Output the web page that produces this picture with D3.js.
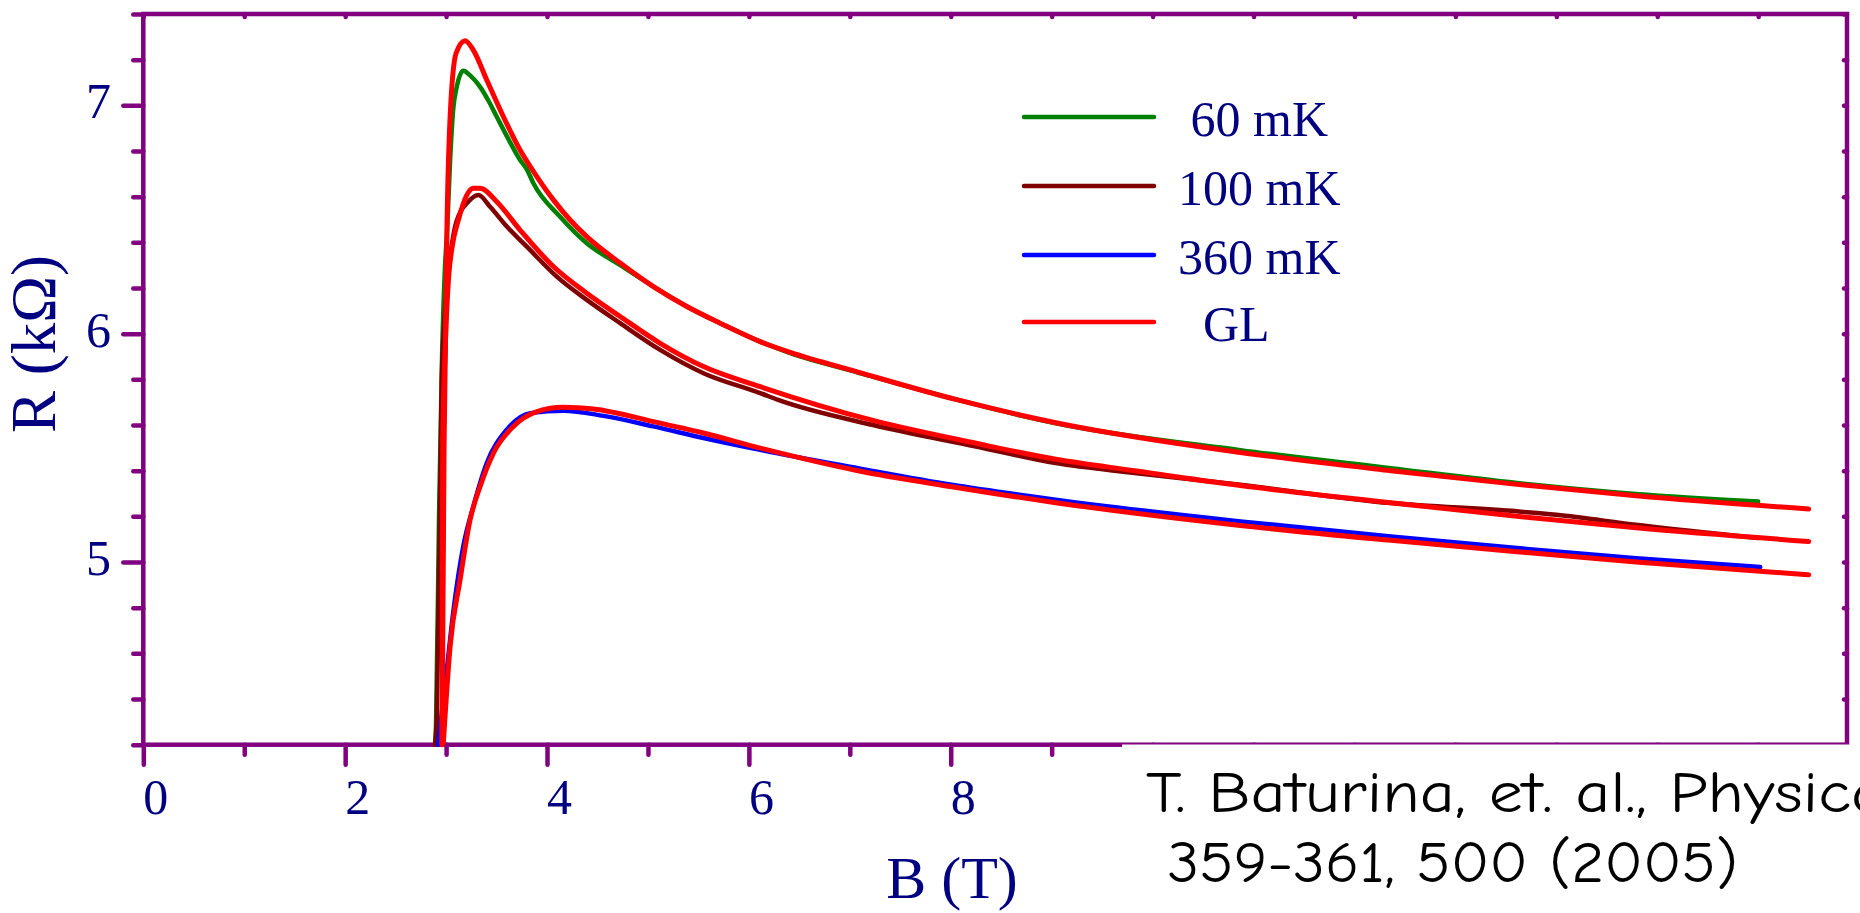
<!DOCTYPE html>
<html>
<head>
<meta charset="utf-8">
<script src="https://cdn.jsdelivr.net/npm/d3@7"></script>
<style>
  html, body { margin: 0; padding: 0; background: #fff; }
  svg { display: block; }
</style>
</head>
<body>
<svg id="chart" width="1860" height="913"></svg>
<script>
// Magnetoresistance R(B) of a TiN film at three temperatures, with GL fits.

// Measured curves: [B (T), R (kOhm)]
const data60mK = [
  [2.89, 4.20], [2.90, 4.28], [2.93, 5.20], [2.96, 5.90], [2.99, 6.30], [3.01, 6.45],
  [3.04, 6.76], [3.07, 6.98], [3.106, 7.081], [3.17, 7.151], [3.24, 7.13], [3.337, 7.081],
  [3.42, 7.02], [3.502, 6.95], [3.62, 6.85], [3.733, 6.761], [3.80, 6.72], [3.865, 6.659],
  [4.13, 6.512], [4.394, 6.396], [4.725, 6.30], [5.054, 6.206], [5.385, 6.119], [5.715, 6.046],
  [6.112, 5.965], [6.41, 5.915], [7.08, 5.83], [8.05, 5.712], [9.04, 5.608], [10.87, 5.49],
  [12.36, 5.411], [13.61, 5.346], [14.79, 5.298], [16.0, 5.265]
];
const data100mK = [
  [2.89, 4.20], [2.908, 4.32], [2.957, 5.80], [2.99, 6.10], [3.03, 6.30], [3.08, 6.45],
  [3.15, 6.54], [3.205, 6.571], [3.32, 6.607], [3.436, 6.556], [3.602, 6.469], [3.80, 6.381],
  [4.097, 6.25], [4.394, 6.148], [4.725, 6.046], [5.121, 5.929], [5.55, 5.827], [6.112, 5.74],
  [6.29, 5.71], [7.23, 5.60], [8.25, 5.506], [9.04, 5.433], [9.82, 5.39], [10.87, 5.338],
  [12.36, 5.258], [13.61, 5.222], [14.00, 5.207], [14.79, 5.163], [16.0, 5.105]
];
const data360mK = [
  [2.92, 4.20], [3.00, 4.50], [3.07, 4.777], [3.17, 5.068], [3.27, 5.243], [3.403, 5.433],
  [3.60, 5.579], [3.833, 5.652], [4.163, 5.663], [4.559, 5.640], [5.054, 5.594], [5.55, 5.543],
  [6.112, 5.491], [7.08, 5.411], [8.01, 5.338], [9.04, 5.273], [10.87, 5.178], [12.36, 5.112],
  [13.61, 5.061], [14.79, 5.017], [16.02, 4.978]
];

// Ginzburg-Landau fits
const fitGL60 = [
  [2.96, 4.20], [2.98, 5.50], [3.01, 6.50], [3.04, 6.95], [3.099, 7.228], [3.188, 7.283],
  [3.27, 7.242], [3.403, 7.111], [3.568, 6.95], [3.733, 6.804], [3.899, 6.688], [4.063, 6.586],
  [4.229, 6.498], [4.394, 6.425], [4.725, 6.309], [5.054, 6.206], [5.385, 6.119], [5.715, 6.046],
  [6.112, 5.965], [6.41, 5.918], [7.08, 5.832], [8.05, 5.712], [9.04, 5.61], [10.87, 5.48],
  [12.36, 5.40], [13.61, 5.34], [14.79, 5.29], [16.5, 5.232]
];
const fitGL100 = [
  [2.96, 4.20], [2.967, 5.535], [2.99, 5.915], [3.023, 6.235], [3.06, 6.38], [3.122, 6.498],
  [3.205, 6.607], [3.27, 6.637], [3.337, 6.637], [3.502, 6.578], [3.733, 6.454], [4.063, 6.294],
  [4.394, 6.177], [4.725, 6.075], [5.121, 5.958], [5.55, 5.856], [6.112, 5.768], [7.23, 5.62],
  [8.25, 5.52], [9.04, 5.45], [9.82, 5.40], [10.87, 5.335], [12.36, 5.26], [13.61, 5.20],
  [14.79, 5.15], [16.5, 5.09]
];
const fitGL360 = [
  [2.973, 4.208], [3.04, 4.631], [3.139, 4.923], [3.238, 5.185], [3.337, 5.331], [3.469, 5.477],
  [3.667, 5.594], [3.899, 5.659], [4.163, 5.678], [4.46, 5.670], [5.054, 5.615], [5.55, 5.565],
  [6.112, 5.499], [7.08, 5.40], [8.01, 5.33], [9.04, 5.26], [10.87, 5.16], [12.36, 5.095],
  [13.61, 5.045], [14.79, 5.00], [16.5, 4.944]
];

const legendLabels = [" 60 mK", "100 mK", "360 mK", "  GL"];
const seriesColors = ["#008000", "#800000", "#0000ff", "#ff0000"];
const xTickLabels = [0, 2, 4, 6, 8];
const yTickLabels = [5, 6, 7];
const xTitle = "B (T)";
const yTitle = "R (kΩ)";
const citation = ["T. Baturina, et. al., Physica", " 359-361, 500 (2005)"];

const svg = d3.select("#chart");
const axisColor = "#800080";
const textColor = "#000080";

const x = d3.scaleLinear().domain([0, 16.88]).range([143.3, 1847]);
const y = d3.scaleLinear().domain([4.2, 7.4]).range([744.7, 14]);

const serif = "'Liberation Serif', 'Times New Roman', serif";

// Frame
svg.append("rect")
  .attr("x", x(0)).attr("y", y(7.4))
  .attr("width", x(16.88) - x(0)).attr("height", y(4.2) - y(7.4))
  .attr("fill", "none").attr("stroke", axisColor).attr("stroke-width", 4.5);

// Tick positions
const xTicks = d3.range(0, 17);
const yTicks = d3.range(21, 38).map(d => d / 5);

function styleAxis(g) {
  g.select(".domain").remove();
  g.selectAll(".tick line").attr("stroke", axisColor).attr("stroke-width", 4.5)
    .attr("stroke-linecap", "round");
  g.selectAll(".tick text").remove();
}

// Bottom axis: major ticks every 2 T, minor every 1 T
svg.append("g").attr("transform", `translate(0,${y(4.2)})`)
  .call(d3.axisBottom(x).tickValues(xTicks).tickSize(10))
  .call(styleAxis)
  .selectAll(".tick line").attr("y2", d => d % 2 === 0 ? 20 : 10);

// Left axis: major ticks every 1 kOhm, minor every 0.2
svg.append("g").attr("transform", `translate(${x(0)},0)`)
  .call(d3.axisLeft(y).tickValues(yTicks).tickSize(10))
  .call(styleAxis)
  .selectAll(".tick line").attr("x2", d => Math.abs(d - Math.round(d)) < 1e-6 ? -20 : -10);

// Small inward ticks on top and right
svg.append("g").attr("transform", `translate(0,${y(7.4)})`)
  .call(d3.axisTop(x).tickValues(xTicks).tickSize(-3))
  .call(styleAxis);
svg.append("g").attr("transform", `translate(${x(16.88)},0)`)
  .call(d3.axisRight(y).tickValues(yTicks).tickSize(-3))
  .call(styleAxis);

// Tick labels
svg.append("g").selectAll("text").data(xTickLabels).join("text")
  .attr("x", d => x(d)).attr("y", 814)
  .attr("text-anchor", "start")
  .attr("font-family", serif).attr("font-size", 50).attr("fill", textColor)
  .text(d => d);
svg.append("g").selectAll("text").data(yTickLabels).join("text")
  .attr("x", 111).attr("y", d => y(d) + 13)
  .attr("text-anchor", "end")
  .attr("font-family", serif).attr("font-size", 50).attr("fill", textColor)
  .text(d => d);

// Axis titles
svg.append("text")
  .attr("x", 952).attr("y", 898)
  .attr("text-anchor", "middle")
  .attr("font-family", serif).attr("font-size", 60).attr("fill", textColor)
  .text(xTitle);
svg.append("text")
  .attr("transform", "translate(55,344) rotate(-90)")
  .attr("text-anchor", "middle")
  .attr("font-family", serif).attr("font-size", 63).attr("fill", textColor)
  .text(yTitle);

// Curves
const line = d3.line().x(d => x(d[0])).y(d => y(d[1])).curve(d3.curveMonotoneX);
const plot = svg.append("g");
[data60mK, data100mK, data360mK].forEach((s, i) => {
  plot.append("path").datum(s).attr("d", line)
    .attr("fill", "none").attr("stroke", seriesColors[i]).attr("stroke-width", 4.5)
    .attr("stroke-linejoin", "round").attr("stroke-linecap", "round");
});
[fitGL60, fitGL100, fitGL360].forEach(s => {
  plot.append("path").datum(s).attr("d", line)
    .attr("fill", "none").attr("stroke", seriesColors[3]).attr("stroke-width", 5)
    .attr("stroke-linejoin", "round").attr("stroke-linecap", "round");
});

// Legend
const legendY = [117, 186, 255, 322];
const legend = svg.append("g");
legendLabels.forEach((label, i) => {
  legend.append("line")
    .attr("x1", 1024).attr("x2", 1154).attr("y1", legendY[i]).attr("y2", legendY[i])
    .attr("stroke", seriesColors[i]).attr("stroke-width", 4.5).attr("stroke-linecap", "round");
  legend.append("text")
    .attr("x", 1178).attr("y", legendY[i] + 19)
    .style("white-space", "pre")
    .attr("font-family", serif).attr("font-size", 50).attr("fill", textColor)
    .text(label);
});

// Citation box
svg.append("rect")
  .attr("x", 1122).attr("y", 744.5).attr("width", 1860 - 1122).attr("height", 913 - 744.5)
  .attr("fill", "#fff");
const citeFont = "'Comic Sans MS', 'Comic Neue', 'Open Sans', sans-serif";
svg.append("text")
  .attr("x", 1146).attr("y", 812)
  .attr("font-family", citeFont).attr("font-size", 58).attr("fill", "#000")
  .attr("textLength", 740).attr("lengthAdjust", "spacingAndGlyphs")
  .text(citation[0]);
svg.append("text")
  .attr("x", 1146).attr("y", 882)
  .style("white-space", "pre")
  .attr("font-family", citeFont).attr("font-size", 58).attr("fill", "#000")
  .attr("textLength", 592).attr("lengthAdjust", "spacingAndGlyphs")
  .text(citation[1]);
</script>
</body>
</html>
